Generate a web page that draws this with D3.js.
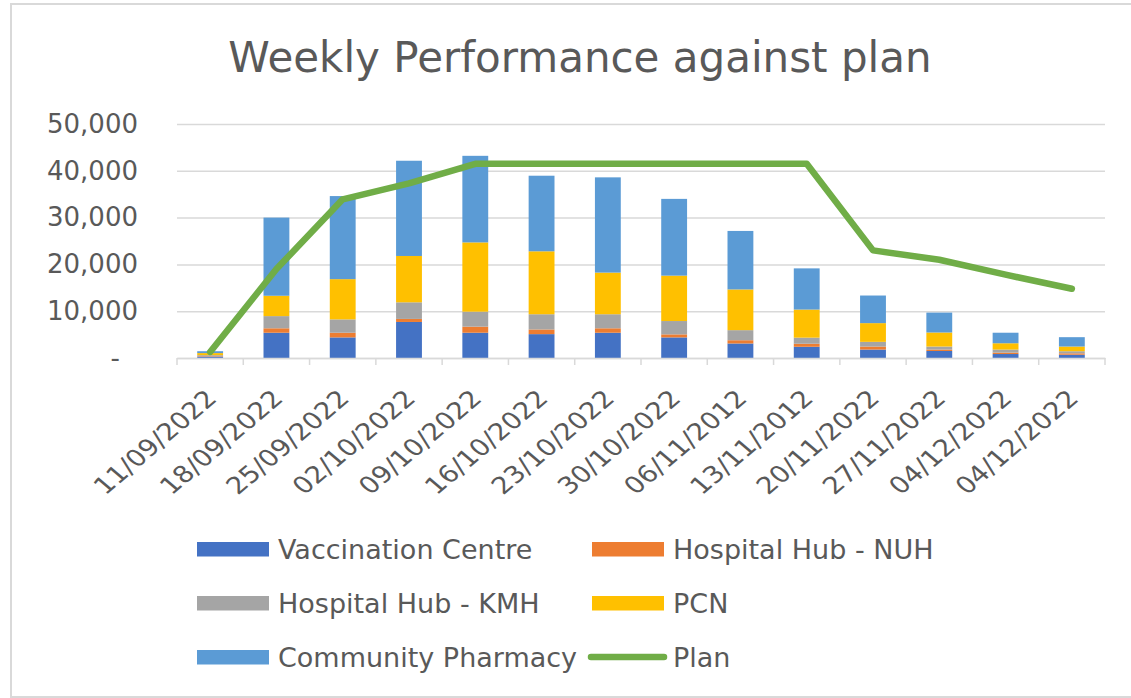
<!DOCTYPE html>
<html>
<head>
<meta charset="utf-8">
<script src="https://cdn.jsdelivr.net/npm/d3@7"></script>
<style>
  body { margin: 0; background: #fff; }
  svg { display: block; font-family: "DejaVu Sans", sans-serif; }
</style>
</head>
<body>
<svg id="chart" width="1131" height="698"></svg>
<script>
/* Weekly performance against plan - stacked bars + plan line */

const weeks = ["11/09/2022", "18/09/2022", "25/09/2022", "02/10/2022", "09/10/2022",
  "16/10/2022", "23/10/2022", "30/10/2022", "06/11/2012", "13/11/2012",
  "20/11/2022", "27/11/2022", "04/12/2022", "04/12/2022"];

const vaccinationCentre = [300, 5400, 4400, 7700, 5400, 5100, 5400, 4400, 3100, 2400, 1800, 1500, 850, 700];
const hospitalNUH       = [100, 950, 1000, 650, 1300, 1000, 950, 650, 700, 650, 650, 300, 300, 300];
const hospitalKMH       = [200, 2600, 2850, 3550, 3200, 3250, 3000, 2850, 2150, 1300, 1000, 650, 650, 450];
const pcn               = [450, 4350, 8600, 9900, 14800, 13450, 8900, 9700, 8700, 6000, 4000, 3000, 1350, 1000];
const communityPharmacy = [400, 16700, 17750, 20350, 18500, 16150, 20350, 16400, 12500, 8800, 5900, 4250, 2250, 2000];
const plan = [1300, 19000, 33900, 37300, 41500, 41500, 41500, 41500, 41500, 41500, 23000, 21000, 17800, 14800];

const yTicks = [0, 10000, 20000, 30000, 40000, 50000];

const seriesNames = ["Vaccination Centre", "Hospital Hub - NUH", "Hospital Hub - KMH", "PCN", "Community Pharmacy"];
const seriesColors = ["#4472C4", "#ED7D31", "#A5A5A5", "#FFC000", "#5B9BD5"];
const planColor = "#70AD47";

// table for d3.stack
const table = weeks.map((w, i) => ({
  i: i,
  "Vaccination Centre": vaccinationCentre[i],
  "Hospital Hub - NUH": hospitalNUH[i],
  "Hospital Hub - KMH": hospitalKMH[i],
  "PCN": pcn[i],
  "Community Pharmacy": communityPharmacy[i]
}));

const svg = d3.select("#chart");

// outer frame
svg.append("rect")
  .attr("x", 11).attr("y", 4)
  .attr("width", 1140).attr("height", 693)
  .attr("fill", "none")
  .attr("stroke", "#d9d9d9")
  .attr("stroke-width", 2);

// title
svg.append("text")
  .attr("x", 580).attr("y", 72)
  .attr("text-anchor", "middle")
  .attr("fill", "#595959")
  .attr("font-size", "42px")
  .text("Weekly Performance against plan");

/*** scales */
const plotLeft = 177, plotRight = 1105, plotTop = 124, plotBottom = 358;

const x = d3.scaleBand()
  .domain(d3.range(weeks.length))
  .range([plotLeft, plotRight])
  .paddingInner(0.61)
  .paddingOuter(0.305);

const y = d3.scaleLinear()
  .domain([0, 50000])
  .range([plotBottom, plotTop]);

/*** y axis with gridlines */
const yAxis = svg.append("g")
  .attr("transform", `translate(${plotLeft},0)`)
  .call(d3.axisLeft(y)
    .tickValues(yTicks)
    .tickSize(-(plotRight - plotLeft))
    .tickPadding(39)
    .tickFormat(d => d === 0 ? "-" : d3.format(",")(d)));
yAxis.select(".domain").remove();
yAxis.selectAll("line").attr("stroke", "#d9d9d9").attr("stroke-width", 1.5);
yAxis.selectAll("text")
  .attr("fill", "#595959")
  .attr("font-size", "26px")
  .attr("font-family", "DejaVu Sans, sans-serif");
yAxis.selectAll(".tick").filter(d => d === 0).select("text").attr("x", -57);

/*** bars */
const stacked = d3.stack().keys(seriesNames)(table);

svg.append("g")
  .selectAll("g")
  .data(stacked)
  .join("g")
  .attr("fill", (d, k) => seriesColors[k])
  .selectAll("rect")
  .data(d => d)
  .join("rect")
  .attr("x", d => x(d.data.i))
  .attr("width", x.bandwidth())
  .attr("y", d => y(d[1]))
  .attr("height", d => y(d[0]) - y(d[1]));

/*** x axis */
const xAxis = svg.append("g")
  .attr("transform", `translate(0,${plotBottom})`)
  .call(d3.axisBottom(x).tickSize(0).tickFormat(i => weeks[i]));
xAxis.select(".domain").attr("stroke", "#d9d9d9").attr("stroke-width", 1.5);
xAxis.selectAll("text")
  .attr("x", 0).attr("y", 0).attr("dy", 0)
  .attr("text-anchor", "end")
  .attr("transform", "translate(8,42) scale(1.18,1) rotate(-45)")
  .attr("fill", "#595959")
  .attr("font-size", "23.5px")
  .attr("font-family", "DejaVu Sans, sans-serif");

// tick marks between categories
const boundaries = d3.range(weeks.length + 1).map(i => plotLeft + i * x.step());
xAxis.append("g")
  .selectAll("line")
  .data(boundaries)
  .join("line")
  .attr("x1", d => d).attr("x2", d => d)
  .attr("y1", 0).attr("y2", 7)
  .attr("stroke", "#d9d9d9")
  .attr("stroke-width", 1.5);

/*** plan line */
const line = d3.line()
  .x((d, i) => x(i) + x.bandwidth() / 2)
  .y(d => y(d));

svg.append("path")
  .datum(plan)
  .attr("fill", "none")
  .attr("stroke", planColor)
  .attr("stroke-width", 6.5)
  .attr("stroke-linejoin", "round")
  .attr("stroke-linecap", "round")
  .attr("d", line);

/*** legend */
const legendItems = [
  { name: "Vaccination Centre", color: seriesColors[0], col: 0, row: 0 },
  { name: "Hospital Hub - NUH", color: seriesColors[1], col: 1, row: 0 },
  { name: "Hospital Hub - KMH", color: seriesColors[2], col: 0, row: 1 },
  { name: "PCN", color: seriesColors[3], col: 1, row: 1 },
  { name: "Community Pharmacy", color: seriesColors[4], col: 0, row: 2 },
  { name: "Plan", color: planColor, col: 1, row: 2, line: true }
];
const colX = [197, 592];
const rowY = [549, 603, 657];

const legend = svg.append("g")
  .selectAll("g")
  .data(legendItems)
  .join("g")
  .attr("transform", d => `translate(${colX[d.col]},${rowY[d.row]})`);

legend.filter(d => !d.line).append("rect")
  .attr("x", 0).attr("y", -7)
  .attr("width", 72).attr("height", 14.5)
  .attr("fill", d => d.color);

legend.filter(d => d.line).append("line")
  .attr("x1", -1).attr("x2", 72)
  .attr("y1", 0).attr("y2", 0)
  .attr("stroke", d => d.color)
  .attr("stroke-width", 6.5)
  .attr("stroke-linecap", "round");

legend.append("text")
  .attr("x", 81)
  .attr("y", 0)
  .attr("dy", "0.36em")
  .attr("fill", "#595959")
  .attr("font-size", "27px")
  .text(d => d.name);
</script>
</body>
</html>
